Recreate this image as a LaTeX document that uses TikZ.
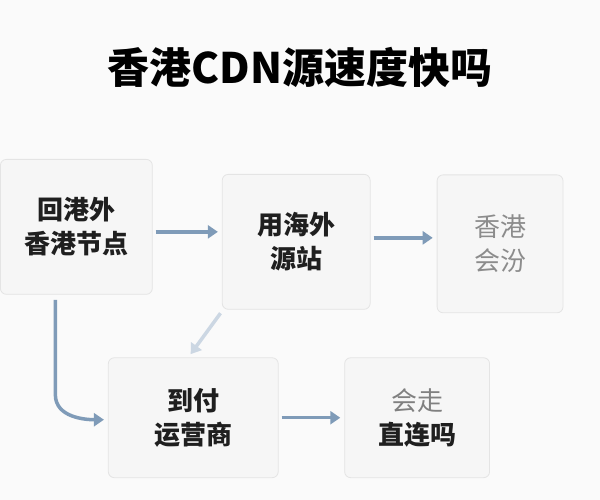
\documentclass[tikz,border=0pt]{standalone}
\usepackage{fontspec}
\newfontfamily\cjk{Noto Sans CJK SC}
\usetikzlibrary{arrows.meta}
\definecolor{arr}{HTML}{7F9BB8}
\definecolor{bx}{HTML}{F6F6F6}
\definecolor{bd}{HTML}{E4E4E4}
\begin{document}
\begin{tikzpicture}[x=1pt,y=-1pt,
 box/.style={draw=bd,fill=bx,rounded corners=6pt,line width=0.8pt,align=center,font=\cjk\fontsize{26}{34}\selectfont\bfseries,text=black!88},
 ar/.style={draw=arr,line width=3.5pt,shorten >=4pt,shorten <=3pt,-{Triangle[length=10pt,width=13pt]}}]
\fill[white!98!black] (0,0) rectangle (600,500);
\node[font=\cjk\fontsize{42}{48}\selectfont\bfseries] (t) at (300,68) {香港CDN源速度快吗};
\node[box,minimum width=152pt,minimum height=135pt] (b1) at (76,227) {回港外\\香港节点};
\node[box,minimum width=148pt,minimum height=135pt] (b2) at (296,242) {用海外\\源站};
\node[box,minimum width=126pt,minimum height=138pt,text=black!45,font=\cjk\fontsize{26}{34}\selectfont] (b3) at (500,244) {香港\\会汾};
\node[box,minimum width=170pt,minimum height=120pt] (b4) at (193,418) {到付\\运营商};
\node[box,minimum width=145pt,minimum height=120pt] (b5) at (417,418) {{\color{black!50}\mdseries 会走}\\直连吗};
\draw[ar] (b1.east|-0,232) -- (b2.west|-0,232);
\draw[ar] (b2.east|-0,238) -- (b3.west|-0,238);
\draw[ar,draw=arr!40] (222,311) -- (b4.north-|188,0);
\draw[ar] (55,297) -- (55,395) to[out=-90,in=180] (b4.west|-0,420);
\draw[ar] (b4.east|-0,418) -- (b5.west|-0,418);
\end{tikzpicture}
\end{document}
